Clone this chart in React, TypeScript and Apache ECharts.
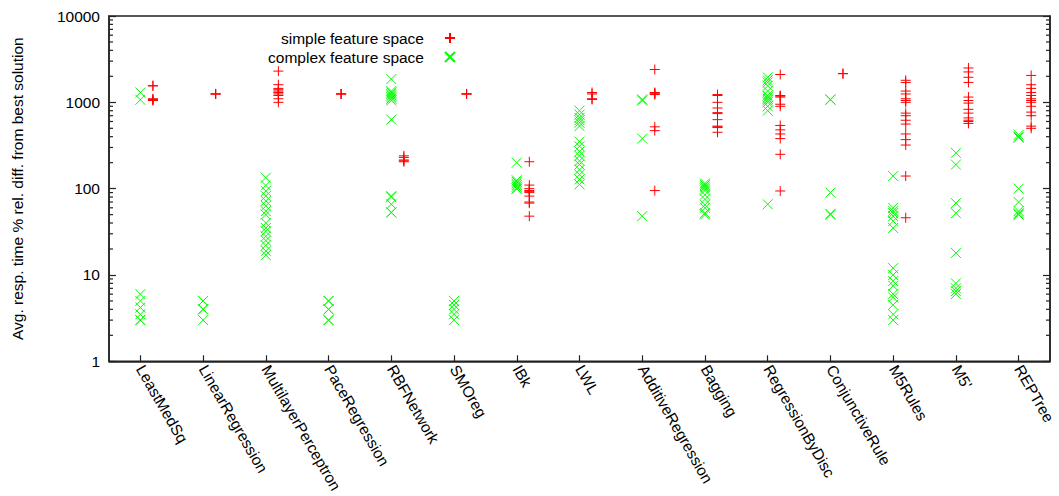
import React, { useEffect, useRef } from "react";
import * as echarts from "echarts";

const categories = [
  "LeastMedSq", "LinearRegression", "MultilayerPerceptron", "PaceRegression", "RBFNetwork",
  "SMOreg", "IBk", "LWL", "AdditiveRegression", "Bagging", "RegressionByDisc",
  "ConjunctiveRule", "M5Rules", "M5'", "REPTree",
];

const simpleSpace: number[][] = [
  [1560, 1550, 1100, 1080, 1060, 1050],
  [1250, 1250, 1250],
  [2300, 1600, 1450, 1400, 1350, 1300, 1250, 1200, 1100, 1000],
  [1250, 1250, 1250],
  [240, 230, 215, 210, 205],
  [1250, 1250, 1250],
  [205, 110, 100, 95, 93, 90, 82, 70, 68, 48],
  [1300, 1250, 1100, 1080],
  [2400, 1300, 1280, 1250, 1230, 520, 470, 95],
  [1230, 1200, 1000, 860, 760, 740, 630, 530, 520, 510, 450],
  [2100, 1200, 1180, 1150, 950, 900, 540, 480, 430, 380, 250, 94],
  [2150, 2150],
  [1800, 1700, 1350, 1250, 1100, 1050, 1000, 750, 700, 620, 560, 430, 370, 320, 140, 46],
  [2500, 2250, 1950, 1700, 1150, 1050, 980, 830, 750, 660, 620, 600, 570],
  [2050, 1600, 1450, 1300, 1200, 1100, 1050, 1000, 900, 770, 700, 530, 500],
];

const complexSpace: number[][] = [
  [1300, 1070, 6, 5, 4.2, 3.5, 3, 3],
  [5, 5, 4, 4, 3],
  [134, 109, 94, 82, 72, 63, 55, 50, 40, 35, 32, 28, 25, 22, 19, 17],
  [5, 5, 4, 4, 3, 3],
  [1860, 1350, 1300, 1250, 1200, 1150, 1100, 1050, 630, 82, 80, 66, 53, 53],
  [5, 4.5, 4, 3.5, 3],
  [200, 125, 120, 115, 110, 105, 100, 100],
  [800, 720, 660, 620, 580, 530, 350, 310, 270, 240, 210, 190, 165, 145, 128, 112],
  [1080, 1050, 380, 48],
  [115, 110, 105, 100, 95, 85, 75, 65, 60, 52, 50],
  [1950, 1800, 1700, 1550, 1350, 1200, 1150, 1100, 1050, 1000, 900, 800, 66],
  [1080, 1070, 90, 51, 50],
  [140, 60, 55, 52, 48, 42, 35, 12, 10, 8.5, 7.5, 6, 5.5, 4.5, 3.5, 3],
  [260, 190, 68, 52, 18, 8, 7, 6.5, 6],
  [420, 400, 390, 100, 70, 55, 52, 50, 50],
];

const yMinorTicks = [
  2, 3, 4, 5, 6, 7, 8, 9,
  20, 30, 40, 50, 60, 70, 80, 90,
  200, 300, 400, 500, 600, 700, 800, 900,
  2000, 3000, 4000, 5000, 6000, 7000, 8000, 9000,
];

const FONT = "'Liberation Sans', Arial, sans-serif";
const FS = 15.5;
const LINE = "#222";
const LW = 1.5;
const PLUS = "path://M5,0L5,10M0,5L10,5";
const CROSS = "path://M0,0L10,10M10,0L0,10";
const X_MIN = -0.5;
const X_MAX = 14.5;

export default function App() {
  const ref = useRef<HTMLDivElement>(null);
  useEffect(() => {
    if (!ref.current) return;
    const chart = echarts.init(ref.current, null, { renderer: "svg" });
    const simpleData = simpleSpace.flatMap((vals, i) => vals.map((v) => [i + 0.2, v]));
    const complexData = complexSpace.flatMap((vals, i) => vals.map((v) => [i, v]));
    const minorData = yMinorTicks.map((v) => [X_MIN, v]);
    const logAxisBase = {
      type: "log" as const,
      logBase: 10,
      min: 1,
      max: 10000,
      splitLine: { show: false },
      minorTick: { show: false },
    };
    chart.setOption({
      animation: false,
      backgroundColor: "#fff",
      textStyle: { fontFamily: FONT },
      grid: {
        left: 109, right: 9, top: 16, bottom: 134,
        show: true, borderColor: LINE, borderWidth: LW,
      },
      legend: {
        orient: "vertical",
        align: "right",
        right: 603,
        top: 30,
        padding: 0,
        itemWidth: 10,
        itemHeight: 10,
        itemGap: 3,
        selectedMode: false,
        textStyle: { fontSize: FS, color: "#000", fontFamily: FONT, padding: [0, 16, 0, 0] },
        data: [
          { name: "simple feature space", icon: PLUS },
          { name: "complex feature space", icon: CROSS },
        ],
      },
      xAxis: [
        {
          type: "category",
          data: categories,
          boundaryGap: true,
          axisLine: { onZero: false, lineStyle: { color: LINE, width: LW } },
          axisTick: { show: true, alignWithLabel: true, inside: true, length: 6, lineStyle: { color: LINE, width: 1.2 } },
          axisLabel: { rotate: -60, interval: 0, fontSize: FS, color: "#000", margin: 5, fontFamily: FONT },
          splitLine: { show: false },
        },
        { type: "value", min: X_MIN, max: X_MAX, show: false },
      ],
      yAxis: [
        {
          ...logAxisBase,
          position: "left",
          name: "Avg. resp. time % rel. diff. from best solution",
          nameLocation: "middle",
          nameGap: 84,
          nameTextStyle: { fontSize: FS, color: "#000", fontFamily: FONT },
          axisLine: { show: true, onZero: false, lineStyle: { color: LINE, width: LW } },
          axisTick: { show: true, inside: true, length: 7, lineStyle: { color: LINE, width: 1.2 } },
          axisLabel: {
            fontSize: FS, color: "#000", margin: 9, fontFamily: FONT,
            formatter: (v: number) => String(Math.round(v)),
          },
        },
        {
          ...logAxisBase,
          position: "right",
          axisLine: { show: true, onZero: false, lineStyle: { color: LINE, width: LW } },
          axisTick: { show: true, inside: true, length: 7, lineStyle: { color: LINE, width: 1.2 } },
          axisLabel: { show: false },
        },
      ],
      series: [
        {
          name: "minor ticks",
          type: "custom",
          xAxisIndex: 1,
          yAxisIndex: 0,
          silent: true,
          clip: false,
          z: 5,
          data: minorData,
          renderItem: (_params: any, api: any) => {
            const v = api.value(1);
            const pL = api.coord([X_MIN, v]);
            const pR = api.coord([X_MAX, v]);
            return {
              type: "group",
              children: [
                { type: "line", shape: { x1: pL[0], y1: pL[1], x2: pL[0] + 4, y2: pL[1] }, style: { stroke: LINE, lineWidth: 1.2 } },
                { type: "line", shape: { x1: pR[0] - 4, y1: pR[1], x2: pR[0], y2: pR[1] }, style: { stroke: LINE, lineWidth: 1.2 } },
              ],
            };
          },
        },
        {
          name: "simple feature space",
          type: "scatter",
          xAxisIndex: 1,
          yAxisIndex: 0,
          symbol: PLUS,
          symbolSize: 10,
          itemStyle: { color: "rgba(255,0,0,0)", borderColor: "#ff0000", borderWidth: 1, opacity: 1 },
          data: simpleData,
        },
        {
          name: "complex feature space",
          type: "scatter",
          xAxisIndex: 1,
          yAxisIndex: 0,
          symbol: CROSS,
          symbolSize: 10,
          itemStyle: { color: "rgba(0,255,0,0)", borderColor: "#00ff00", borderWidth: 1, opacity: 1 },
          data: complexData,
        },
      ],
    });
    return () => chart.dispose();
  }, []);
  return (
    <div
      ref={ref}
      style={{ position: "fixed", left: 0, top: 0, width: 1059, height: 496, background: "#fff" }}
    />
  );
}
